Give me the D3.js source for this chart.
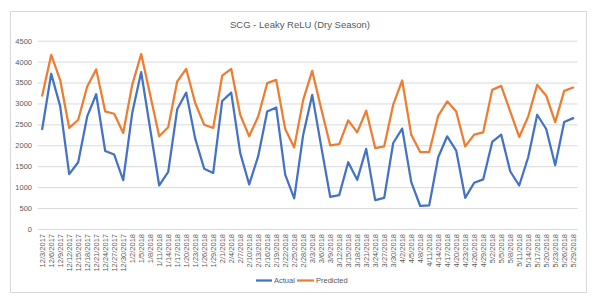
<!DOCTYPE html>
<html><head><meta charset="utf-8">
<script src="https://cdn.jsdelivr.net/npm/d3@7"></script>
<style>body{margin:0;background:#fff}svg{display:block}</style>
</head><body>
<svg id="c" width="605" height="304"></svg>
<script>
const dates = ["12/3/2017","12/6/2017","12/9/2017","12/12/2017","12/15/2017","12/18/2017","12/21/2017","12/24/2017","12/27/2017","12/30/2017",
"1/2/2018","1/5/2018","1/8/2018","1/11/2018","1/14/2018","1/17/2018","1/20/2018","1/23/2018","1/26/2018","1/29/2018",
"2/1/2018","2/4/2018","2/7/2018","2/10/2018","2/13/2018","2/16/2018","2/19/2018","2/22/2018","2/25/2018","2/28/2018",
"3/3/2018","3/6/2018","3/9/2018","3/12/2018","3/15/2018","3/18/2018","3/21/2018","3/24/2018","3/27/2018","3/30/2018",
"4/2/2018","4/5/2018","4/8/2018","4/11/2018","4/14/2018","4/17/2018","4/20/2018","4/23/2018","4/26/2018","4/29/2018",
"5/2/2018","5/5/2018","5/8/2018","5/11/2018","5/14/2018","5/17/2018","5/20/2018","5/23/2018","5/26/2018","5/29/2018"];
const actual = [2390,3710,2930,1310,1595,2690,3220,1865,1780,1165,
2770,3750,2390,1040,1365,2860,3260,2160,1440,1340,
3060,3260,1820,1065,1740,2810,2905,1300,730,2255,
3205,1975,770,810,1595,1175,1915,690,745,2055,
2400,1125,550,565,1715,2215,1875,745,1105,1185,
2080,2255,1380,1040,1715,2730,2390,1525,2555,2650];
const predicted = [3190,4160,3560,2415,2610,3405,3815,2810,2755,2295,
3445,4180,3200,2215,2430,3525,3825,3010,2490,2415,
3665,3825,2730,2215,2690,3485,3565,2390,1950,3085,
3780,2875,2000,2030,2595,2310,2825,1935,1975,2970,
3550,2255,1840,1840,2705,3050,2810,1975,2255,2310,
3325,3420,2810,2200,2690,3445,3185,2555,3300,3380];
const yTicks = [0,500,1000,1500,2000,2500,3000,3500,4000,4500];
const seriesNames = ["Actual","Predicted"];
const colors = ["#4472C4","#ED7D31"];

const svg = d3.select("#c");
const font = "'Liberation Sans', Arial, sans-serif";
const grey = "#595959";

svg.append("rect").attr("x",10.5).attr("y",11.5).attr("width",576).attr("height",281)
  .attr("fill","#fff").attr("stroke","#d9d9d9").attr("stroke-width",1);

svg.append("text").attr("x",300).attr("y",27.5).attr("text-anchor","middle")
  .attr("font-family",font).attr("font-size",9.5).attr("fill",grey)
  .text("SCG - Leaky ReLU (Dry Season)");

const x = d3.scaleBand().domain(dates).range([37.7,577.7]).padding(0);
const y = d3.scaleLinear().domain([0,4500]).range([229,40.7]);

// gridlines
const grid = svg.append("g").attr("transform","translate(37.7,0)")
  .call(d3.axisLeft(y).tickValues(yTicks).tickSize(-540).tickFormat(""));
grid.select(".domain").remove();
grid.selectAll("line").attr("stroke","#d9d9d9").attr("stroke-width",1);

// y labels
const ya = svg.append("g").attr("transform","translate(32,0)")
  .call(d3.axisLeft(y).tickValues(yTicks).tickSize(0).tickPadding(0).tickFormat(d3.format("d")));
ya.select(".domain").remove();
ya.selectAll("text").attr("font-family",font).attr("font-size",7.5).attr("fill",grey);

// x labels
const xa = svg.append("g").attr("transform","translate(0,229)")
  .call(d3.axisBottom(x).tickSize(0).tickPadding(0));
xa.select(".domain").remove();
xa.selectAll("text")
  .attr("font-family",font).attr("font-size",7.5).attr("fill",grey)
  .attr("text-anchor","end").attr("transform","translate(0,5) rotate(-90)")
  .attr("x",0).attr("y",0).attr("dy","0.35em");

const line = d3.line().x((d,i)=>x(dates[i])+x.bandwidth()/2).y(d=>y(d));
[actual,predicted].forEach((s,k)=>{
  svg.append("path").datum(s).attr("d",line).attr("fill","none")
    .attr("stroke",colors[k]).attr("stroke-width",2.25)
    .attr("stroke-linejoin","round").attr("stroke-linecap","round");
});

// legend
const lg = [{x1:256,x2:272,tx:274},{x1:297,x2:314,tx:316}];
seriesNames.forEach((n,k)=>{
  svg.append("line").attr("x1",lg[k].x1).attr("x2",lg[k].x2).attr("y1",280.5).attr("y2",280.5)
    .attr("stroke",colors[k]).attr("stroke-width",2.25);
  svg.append("text").attr("x",lg[k].tx).attr("y",280.5).attr("dy","0.35em")
    .attr("font-family",font).attr("font-size",7.5).attr("fill",grey).text(n);
});
</script>
</body></html>
